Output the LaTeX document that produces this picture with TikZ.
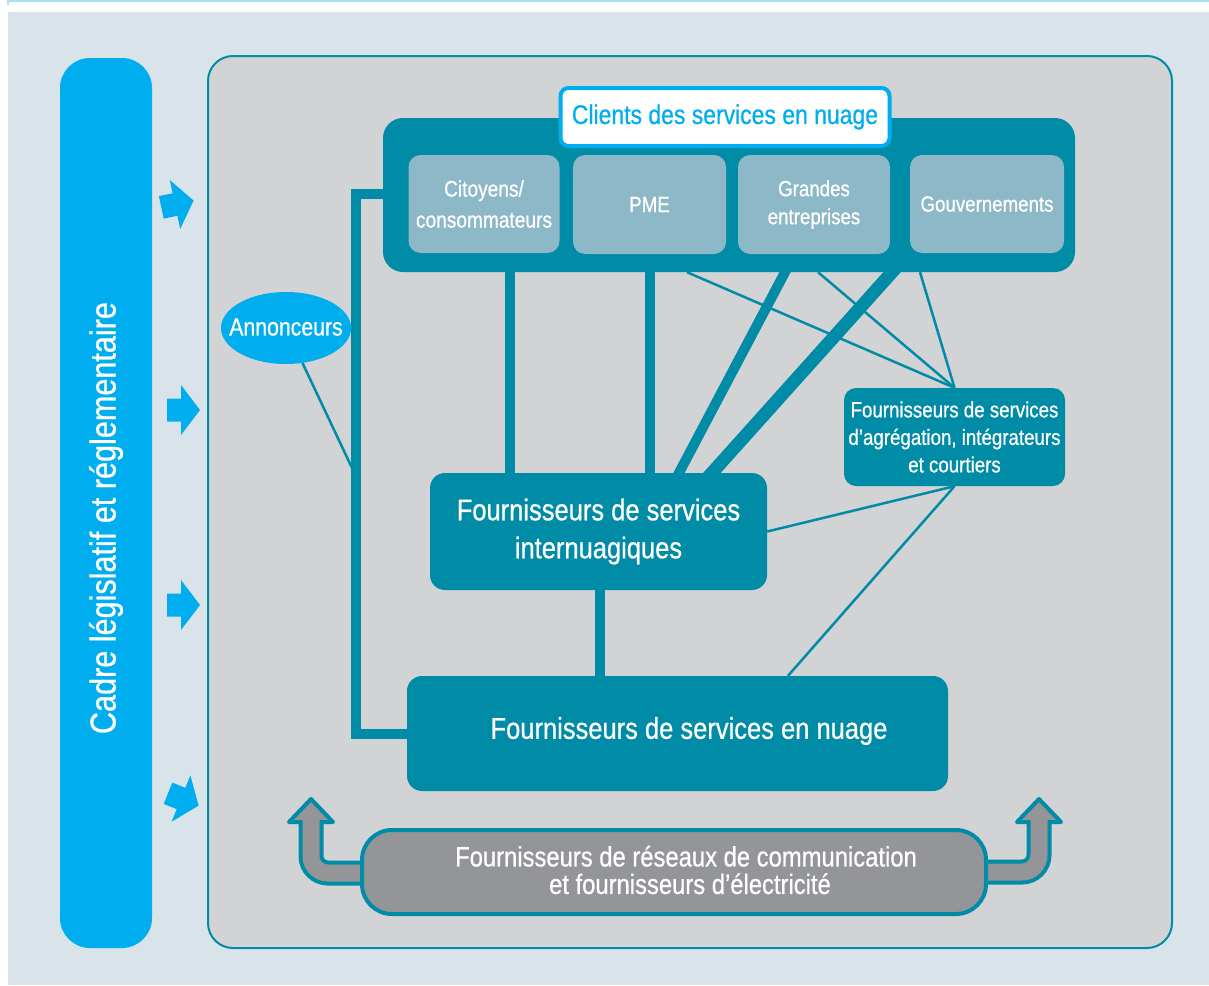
\documentclass[tikz,border=0pt]{standalone}
\usepackage{fontspec}
\setmainfont{Liberation Sans}[FakeStretch=0.85,FakeBold=0.7]
\usetikzlibrary{shapes.geometric}
\definecolor{tealc}{RGB}{0,139,166}
\definecolor{cyanc}{RGB}{0,174,239}
\definecolor{lightbox}{RGB}{141,184,200}
\definecolor{panelgray}{RGB}{209,211,212}
\definecolor{bgblue}{RGB}{216,228,234}
\definecolor{netgray}{RGB}{147,149,152}
\definecolor{topline}{RGB}{170,224,242}
\pgfdeclarelayer{back}
\pgfdeclarelayer{mid}
\pgfsetlayers{back,mid,main}
\tikzset{
  tealbox/.style={rectangle, fill=tealc, text=white, align=center, inner sep=0pt},
  subbox/.style={rectangle, rounded corners=12pt, fill=lightbox, text=white, align=center, inner sep=0pt,
    font=\fontsize{22}{30}\selectfont},
  thickln/.style={draw=tealc, line width=10pt},
  thinln/.style={draw=tealc, line width=2.5pt},
  blockarrow/.pic={\fill[cyanc] (-14,-11.5) -- (0,-11.5) -- (0,-25) -- (19,0) -- (0,25) -- (0,11.5) -- (-14,11.5) -- cycle;}
}
\begin{document}
\begin{tikzpicture}[x=1pt,y=-1pt]
\useasboundingbox (0,0) rectangle (1209,985);
\begin{pgfonlayer}{back}
\fill[white] (0,0) rectangle (1209,985);
\fill[bgblue] (8,12) rectangle (1209,985);
\draw[topline, line width=2pt] (8,1) -- (1209,1);
\draw[topline, line width=1.5pt] (8,0) -- (8,5);
\node[rectangle, rounded corners=30pt, fill=cyanc, minimum width=92pt, minimum height=890pt] (legal) at (106,503) {};
\node[rotate=90, text=white, font=\fontsize{36}{40}\selectfont] (legalt) at (106,518) {Cadre législatif et réglementaire};
\node[rectangle, rounded corners=25pt, fill=panelgray, draw=tealc, line width=2pt, minimum width=964pt, minimum height=892pt] (panel) at (690,502) {};
\path (175,204.5) pic[rotate=12] {blockarrow};
\path (181,410) pic {blockarrow};
\path (181,605) pic {blockarrow};
\path (181,798.5) pic[rotate=-22] {blockarrow};
\end{pgfonlayer}

% boxes
\node[tealbox, rounded corners=20pt, minimum width=692pt, minimum height=154pt] (clients) at (729,195) {};
\node[rectangle, rounded corners=8pt, fill=white, draw=cyanc, line width=4pt, minimum width=329pt, minimum height=58pt,
  text=cyanc, font=\fontsize{27}{32}\selectfont] (title) at (725,117) {Clients des services en nuage};
\node[subbox, minimum width=151pt, minimum height=98pt, font=\fontsize{22.5}{31}\selectfont] (cit) at (484,204) {Citoyens/\\consommateurs};
\node[subbox, minimum width=153pt, minimum height=99pt] (pme) at (649.5,204.5) {PME};
\node[subbox, minimum width=152pt, minimum height=99pt, font=\fontsize{22}{28}\selectfont] (gra) at (814,204.5) {Grandes\\entreprises};
\node[subbox, minimum width=154pt, minimum height=98pt] (gov) at (987,204) {Gouvernements};

\node[ellipse, fill=cyanc, inner sep=0pt, minimum width=130pt, minimum height=72pt] (ann) at (286,328) {};
\node[text=white, font=\fontsize{25}{30}\selectfont] (annt) at (286,327) {Annonceurs};

\node[tealbox, rounded corners=15pt, minimum width=337pt, minimum height=117pt,
  font=\fontsize{30}{38}\selectfont] (inter) at (598.5,531.5) {Fournisseurs de services\\internuagiques};
\node[tealbox, rounded corners=12pt, minimum width=221pt, minimum height=98pt,
  font=\fontsize{22}{27.5}\selectfont] (agg) at (954.5,437) {Fournisseurs de services\\d’agrégation, intégrateurs\\et courtiers};
\node[tealbox, rounded corners=15pt, minimum width=541pt, minimum height=115pt] (nuage) at (677.5,733.5) {};
\node[text=white, font=\fontsize{30}{38}\selectfont] (nuaget) at (689,731) {Fournisseurs de services en nuage};
\node[rectangle, rounded corners=30pt, fill=netgray, draw=tealc, line width=4pt, minimum width=624pt, minimum height=84pt,
  text=white, align=center, font=\fontsize{28}{27.5}\selectfont] (net) at (674,872) {};
\node[text=white, align=center, font=\fontsize{28}{27.5}\selectfont] (nett) at (686,870) {Fournisseurs de réseaux de communication\\\hspace*{8pt}et fournisseurs d’électricité};

\coordinate (annend) at (352,468);

\begin{pgfonlayer}{mid}
% thick vertical / diagonal connectors
\draw[thickln] (510,0 |- clients.south) -- (510,0 |- inter.north);
\draw[thickln] (650,0 |- clients.south) -- (650,0 |- inter.north);
\draw[thickln, shorten <=-8pt, shorten >=-8pt] (785,0 |- clients.south) -- (679,0 |- inter.north);
\draw[thickln, line width=13pt, shorten <=-8pt, shorten >=-8pt] (892,0 |- clients.south) -- (712,0 |- inter.north);
\draw[thickln] (600,0 |- inter.south) -- (600,0 |- nuage.north);
\draw[thickln, line join=miter] (clients.west |- 0,194) -- (356,194) -- (356,734) -- (nuage.west |- 0,734);
% thin connectors
\draw[thinln] (687,0 |- clients.south) -- (agg.north);
\draw[thinln] (818,0 |- clients.south) -- (agg.north);
\draw[thinln] (920,0 |- clients.south) -- (agg.north);
\draw[thinln] (agg.south) -- (inter.east);
\draw[thinln] (agg.south) -- (788,0 |- nuage.north);
\draw[thinln] (ann) -- (annend);
% U arrows to the network box
\draw[tealc, line width=25pt, rounded corners=17pt] (net.west |- 0,873) -| (311,822);
\draw[tealc, line width=25pt, rounded corners=17pt] (net.east |- 0,872) -| (1039,822);
\filldraw[fill=netgray, draw=tealc, line width=4pt, line join=round] (289,822) -- (311,799) -- (333,822) -- cycle;
\filldraw[fill=netgray, draw=tealc, line width=4pt, line join=round] (1017,822) -- (1039,799) -- (1061,822) -- cycle;
\draw[netgray, line width=17pt, rounded corners=17pt] (net.west |- 0,873) -| (311,818);
\draw[netgray, line width=17pt, rounded corners=17pt] (net.east |- 0,872) -| (1039,818);
\end{pgfonlayer}
\end{tikzpicture}
\end{document}
